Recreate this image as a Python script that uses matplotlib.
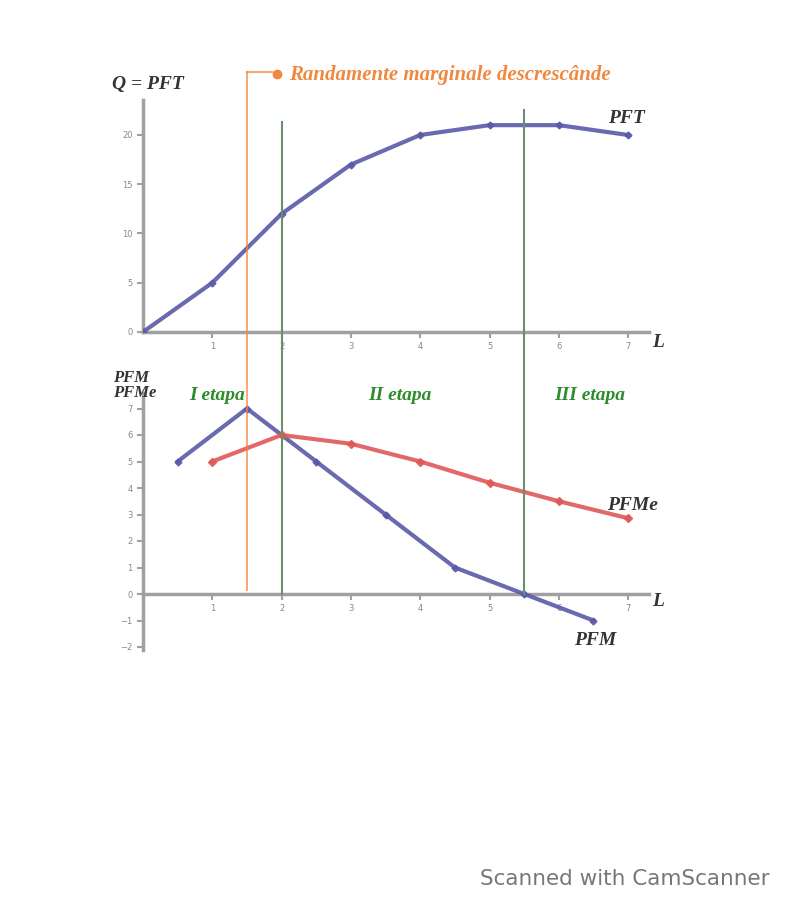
import matplotlib
matplotlib.use("Agg")
import matplotlib.pyplot as plt

# ---- data ----
labor = [0, 1, 2, 3, 4, 5, 6, 7]
pft = [0, 5, 12, 17, 20, 21, 21, 20]
pfm_x = [0.5, 1.5, 2.5, 3.5, 4.5, 5.5, 6.5]
pfm = [5, 7, 5, 3, 1, 0, -1]
pfme_x = [1, 2, 3, 4, 5, 6, 7]
pfme = [5, 6, 5.67, 5, 4.2, 3.5, 2.86]
top_yticks = [0, 5, 10, 15, 20]
bot_yticks = [-2, -1, 0, 1, 2, 3, 4, 5, 6, 7]
xticks = [1, 2, 3, 4, 5, 6, 7]
orange_x = 1.5
green_x = [2, 5.5]
stage_labels = ["I etapa", "II etapa", "III etapa"]
stage_x = [1.07, 3.71, 6.45]

BLUE = "#5a5aa8"
RED = "#e05858"
ORANGE = "#f08840"
GREEN_LINE = "#6a8f6a"
GREEN_TXT = "#2e8b2e"
AXC = "#a0a0a0"

W, H = 788, 900
fig = plt.figure(figsize=(W / 100, H / 100), dpi=100)

def frac(px_left, px_top, px_right, px_bottom):
    return [px_left / W, 1 - px_bottom / H, (px_right - px_left) / W, (px_bottom - px_top) / H]

xmax = 7.3
top_ylim = (0, 23.6)
ax1 = fig.add_axes(frac(143, 332 - top_ylim[1] * 9.85, 143 + xmax * 69.3, 332))
ax1.set_xlim(0, xmax)
ax1.set_ylim(*top_ylim)

bot_ylim = (-2.1, 7.6)
ax2 = fig.add_axes(frac(143, 594 - bot_ylim[1] * 26.5, 143 + xmax * 69.3, 594 - bot_ylim[0] * 26.5))
ax2.set_xlim(0, xmax)
ax2.set_ylim(*bot_ylim)

for ax, yt in ((ax1, top_yticks), (ax2, bot_yticks)):
    for s in ("top", "right"):
        ax.spines[s].set_visible(False)
    ax.spines["left"].set_position(("data", 0))
    ax.spines["bottom"].set_position(("data", 0))
    for s in ("left", "bottom"):
        ax.spines[s].set_color(AXC)
        ax.spines[s].set_linewidth(2.5)
    ax.set_xticks(xticks)
    ax.set_yticks(yt)
    ax.tick_params(colors=AXC, labelcolor="#888888", labelsize=6, length=4, width=1.5)
    ax.patch.set_alpha(0)

# curves
ax1.plot(labor, pft, color=BLUE, lw=3, marker="D", ms=3.5, zorder=3, alpha=0.9)
ax2.plot(pfm_x, pfm, color=BLUE, lw=3, marker="D", ms=3.5, zorder=3, alpha=0.9)
ax2.plot(pfme_x, pfme, color=RED, lw=3, marker="D", ms=4, zorder=3, alpha=0.9)

def xpix(x):
    return 143 + x * 69.3

fig.add_artist(plt.Line2D([xpix(orange_x) / W] * 2, [1 - 590 / H, 1 - 72 / H], color=ORANGE, lw=1.5, alpha=0.7))
fig.add_artist(plt.Line2D([xpix(orange_x) / W, 272 / W], [1 - 72 / H] * 2, color=ORANGE, lw=1.5, alpha=0.7))
fig.add_artist(plt.Line2D([277 / W], [1 - 74 / H], marker="o", color=ORANGE, ms=6))
fig.text(289 / W, 1 - 80 / H, "Randamente marginale descrescânde", color=ORANGE,
         fontsize=15, fontweight="bold", style="italic", family="Liberation Serif", va="baseline")
tops = [122, 110]
for gx, tp in zip(green_x, tops):
    fig.add_artist(plt.Line2D([xpix(gx) / W] * 2, [1 - 594 / H, 1 - tp / H], color=GREEN_LINE, lw=1.5))

lab = dict(fontweight="bold", style="italic", family="Liberation Serif", color="#333333", fontsize=14)
fig.text(112 / W, 1 - 89 / H, "Q = PFT", **lab)
fig.text(608 / W, 1 - 123 / H, "PFT", **lab)
fig.text(652 / W, 1 - 347 / H, "L", **lab)
fig.text(652 / W, 1 - 606 / H, "L", **lab)
small = dict(lab, fontsize=12)
fig.text(113 / W, 1 - 382 / H, "PFM", **small)
fig.text(113 / W, 1 - 397 / H, "PFMe", **small)
fig.text(607 / W, 1 - 510 / H, "PFMe", **lab)
fig.text(574 / W, 1 - 645 / H, "PFM", **lab)
for t, sx in zip(stage_labels, stage_x):
    fig.text(xpix(sx) / W, 1 - 400 / H, t, color=GREEN_TXT, fontsize=14, fontweight="bold",
             style="italic", family="Liberation Serif", ha="center")

fig.text(625 / W, 1 - 885 / H, "Scanned with CamScanner", color="#777777", fontsize=15.5, ha="center")

fig.savefig("out.png", dpi=100)
